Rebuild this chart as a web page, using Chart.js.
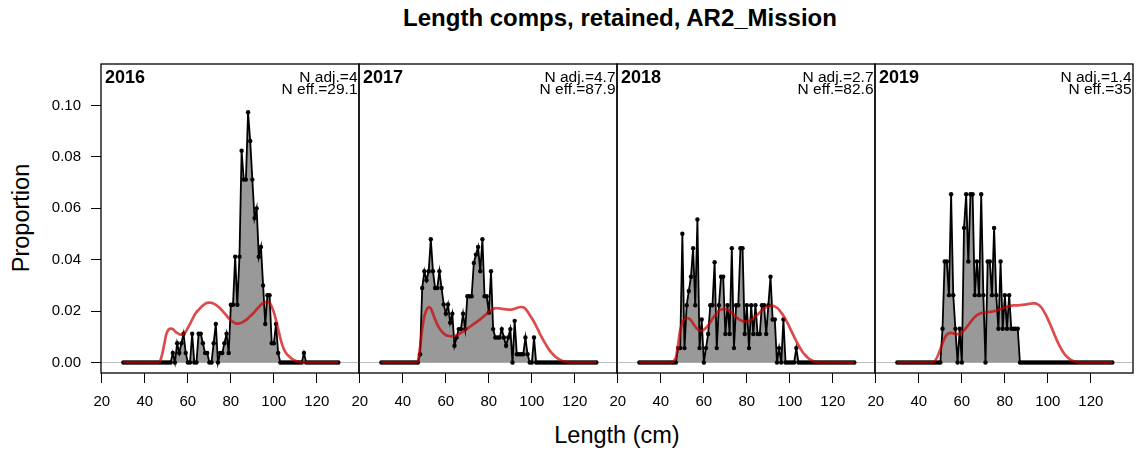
<!DOCTYPE html>
<html><head><meta charset="utf-8">
<script src="https://cdn.jsdelivr.net/npm/chart.js@4.4.1/dist/chart.umd.min.js"></script>
<style>
html,body{margin:0;padding:0;background:#fff;overflow:hidden;width:1140px;height:455px;}
#wrap{position:relative;width:1140px;height:455px;font-family:"Liberation Sans",Arial,sans-serif;color:#000;}
canvas{position:absolute;}
.t{position:absolute;white-space:nowrap;color:#000;line-height:1.15;}
#title{left:620px;top:17.5px;transform:translate(-50%,-50%);font-weight:bold;font-size:24px;}
#ylab{left:22px;top:218px;transform:translate(-50%,-50%) rotate(-90deg);font-size:23.5px;}
#xlab{left:617px;top:436px;transform:translate(-50%,-50%);font-size:23.5px;}
</style></head>
<body>
<div id="wrap">
<div class="t" id="title">Length comps, retained, AR2_Mission</div>
<div class="t" id="ylab">Proportion</div>
<div class="t" id="xlab">Length (cm)</div>
<canvas id="c0" width="389" height="415" style="left:0px;top:40px;"></canvas>
<canvas id="c1" width="318" height="415" style="left:329px;top:40px;"></canvas>
<canvas id="c2" width="318" height="415" style="left:587px;top:40px;"></canvas>
<canvas id="c3" width="318" height="415" style="left:845px;top:40px;"></canvas>
</div>
<script>
const lengths = [30,31,32,33,34,35,36,37,38,39,40,41,42,43,44,45,46,47,48,49,50,51,52,53,54,55,56,57,58,59,60,61,62,63,64,65,66,67,68,69,70,71,72,73,74,75,76,77,78,79,80,81,82,83,84,85,86,87,88,89,90,91,92,93,94,95,96,97,98,99,100,101,102,103,104,105,106,107,108,109,110,111,112,113,114,115,116,117,118,119,120,121,122,123,124,125,126,127,128,129,130];

const years = ["2016","2017","2018","2019"];
const nAdj = ["4","4.7","2.7","1.4"];
const nEff = ["29.1","87.9","82.6","35"];
const xTicks = [20,40,60,80,100,120];
const yTicks = [0,0.02,0.04,0.06,0.08,0.10];

// observed proportions, L = 30..130
const obs2016 = [0,0,0,0,0,0,0,0,0,0, 0,0,0,0,0,0,0,0,0,0, 0,0,0,
 0.0037,0,0.0075,0.0037,0.0075,0.0112,0.0037,0,0,0.0112,0,0,0.0112,0.0112,0.0075,0.0037,0.0037,0,0,0.0075,0.015,0,0.0037,0.0037,0.0075,0.0112,0.0037,
 0.0225,0.0225,0.0412,0.0225,0.0412,0.0824,0.0712,0.0712,0.0974,0.0862,0.0712,0.0562,0.06,0.0412,0.045,0.03,0.015,0.0262,0.0262,0.0075,0.0075,0.015,0.0037,
 0,0,0,0,0,0,0,0,0,0,0, 0.0037,
 0,0,0,0,0,0,0,0,0,0,0,0,0,0,0,0];
const exp2016 = [0,0,0,0,0,0,0,0,0,0,0,0,0,0,0,0,0,
 0.0004,0.003,0.007,0.011,0.0128,0.0132,0.013,0.0122,0.0115,0.011,0.0108,0.0112,0.012,0.0135,0.015,0.0167,0.0183,0.0196,0.0205,0.0214,0.0222,0.0228,0.0232,0.0233,0.0232,0.0229,0.0224,0.0218,0.0211,0.0202,0.0192,0.0182,0.0172,0.0165,0.0158,0.0153,0.0151,0.0152,0.0155,0.016,0.0165,0.0172,0.018,0.0188,0.0197,0.0207,0.0216,0.0225,0.0231,0.0235,0.0236,0.0232,0.0218,0.0195,0.0165,0.013,0.0095,0.0066,0.0046,0.0033,0.0024,0.0017,0.0011,0.0007,0.0004,0.0002,0.0001,
 0,0,0,0,0,0,0,0,0,0,0,0,0,0,0,0,0];

const obs2017 = [0,0,0,0,0,0,0,0,0,0,0,0,0,0,0,0,0,0,
 0.0032,0.029,0.0355,0.032,0.0355,0.048,0.0355,0.029,0.029,0.0355,0.029,0.0226,0.019,0.0226,0.0155,0.019,0.0065,0.0097,0.013,0.013,0.019,0.013,0.0258,0.0258,0.0258,0.0387,0.042,0.045,0.0355,0.048,0.0258,0.0258,0.0194,0.0355,0.013,0.0097,0.0097,0.0097,0.013,0.0097,0.0065,0.0097,0.013,0,0.0162,0.0032,0.0032,0.0032,0.0032,0.0097,0.0032,0,0,0.0097,
 0,0,0,0,0,0,0,0,0,0,0,0,0,0,0,0,0,0,0,0,0,0,0,0,0,0,0,0,0];
const exp2017 = [0,0,0,0,0,0,0,0,0,0,0,0,0,0,0,0,0,
 0.0005,0.006,0.013,0.018,0.0205,0.0215,0.021,0.019,0.0168,0.0148,0.0133,0.0122,0.0113,0.0107,0.0104,0.0102,0.0102,0.0103,0.0106,0.011,0.0115,0.012,0.0126,0.0132,0.0138,0.0144,0.015,0.0156,0.0162,0.0168,0.0175,0.0182,0.0189,0.0196,0.0203,0.0208,0.0211,0.0211,0.021,0.0209,0.0208,0.0207,0.0206,0.0206,0.0207,0.0209,0.0212,0.0215,0.0216,0.0215,0.0209,0.0198,0.0185,0.0172,0.0158,0.0142,0.0125,0.0107,0.0092,0.0077,0.0063,0.005,0.0039,0.003,0.0022,0.0016,0.0011,0.0007,0.0004,0.0002,0.0001,
 0,0,0,0,0,0,0,0,0,0,0,0,0];

const obs2018 = [0,0,0,0,0,0,0,0,0,0,0,0,0,0,0,0,0,0,
 0.0056,0.0056,0.0501,0.0056,0.0223,0.0278,0.0334,0.0445,0.0223,0.0557,0.0056,0.0167,0,0.0056,0.0111,0.0223,0.0223,0.039,0.0056,0.0223,0.0334,0.0334,0.0111,0.0223,0.0111,0.0445,0.0056,0.0223,0.0223,0.0445,0.0445,0.0111,0.0223,0.0056,0.0223,0.0111,0.0223,0.0111,0.0111,0.0223,0.0223,0.0111,0.0223,0.0334,0.0167,0.0167,0,0.0056,0,0.0167,0,0,0,0,0,0.0056,
 0,0,0,0,0,0,0,0,0,0,0,0,0,0,0,0,0,0,0,0,0,0,0,0,0,0,0];
const exp2018 = [0,0,0,0,0,0,0,0,0,0,0,0,0,0,0,0,
 0.0005,0.002,0.007,0.0125,0.0155,0.0168,0.0173,0.0171,0.0164,0.0152,0.014,0.013,0.0125,0.0124,0.0128,0.0135,0.0145,0.0157,0.017,0.0182,0.0193,0.0201,0.0206,0.0208,0.0208,0.0205,0.02,0.0193,0.0185,0.0177,0.017,0.0165,0.0161,0.016,0.016,0.0162,0.0166,0.0172,0.0179,0.0187,0.0195,0.0203,0.021,0.0215,0.0218,0.022,0.022,0.0218,0.0213,0.0205,0.0194,0.0182,0.0168,0.0152,0.0135,0.0117,0.01,0.0083,0.0067,0.0053,0.004,0.003,0.0021,0.0014,0.0009,0.0005,0.0003,0.0001,
 0,0,0,0,0,0,0,0,0,0,0,0,0,0,0,0,0];

const obs2019 = [0,0,0,0,0,0,0,0,0,0,0,0,0,0,0,0,0,0,0,0,0,
 0.0131,0.0393,0.0393,0.0262,0.0655,0.0262,0.0131,0,0.0131,0,0.0524,0.0655,0.0393,0.0655,0.0655,0.0262,0.0393,0.0262,0.0655,0.0262,0,0.0393,0.0393,0.0262,0.0524,0.0262,0.0131,0.0393,0.0131,0.0262,0.0131,0.0262,0.0131,0.0131,0.0131,0.0131,
 0,0,0,0,0,0,0,0,0,0,0,0,0,0,0,0,0,0,0,0,0,0,0,0,0,0,0,0,0,0,0,0,0,0,0,0,0,0,0,0,0,0,0,0];
const exp2019 = [0,0,0,0,0,0,0,0,0,0,0,0,0,0,0,0,
 0.0001,0.0003,0.0012,0.003,0.0052,0.0075,0.0095,0.0108,0.0114,0.0115,0.0113,0.0111,0.011,0.0112,0.0117,0.0125,0.0135,0.0146,0.0157,0.0168,0.0177,0.0184,0.0189,0.0192,0.0194,0.0195,0.0196,0.0197,0.0198,0.02,0.0202,0.0204,0.0207,0.021,0.0214,0.0217,0.022,0.0221,0.0222,0.0222,0.0222,0.0223,0.0224,0.0225,0.0226,0.0228,0.0229,0.023,0.023,0.0228,0.0223,0.0214,0.0201,0.0186,0.0169,0.015,0.013,0.011,0.009,0.0072,0.0056,0.0042,0.003,0.0021,0.0014,0.0009,0.0005,0.0003,0.0001,
 0,0,0,0,0,0,0,0,0,0,0,0,0,0,0,0];

const observed = [obs2016, obs2017, obs2018, obs2019];
const expected = [exp2016, exp2017, exp2018, exp2019];

const FONT = '"Liberation Sans", Arial, Helvetica, sans-serif';
Chart.defaults.font.family = FONT;
Chart.defaults.color = '#000';

const panelDeco = {
  id: 'panelDeco',
  afterDatasetsDraw(chart, args, opts) {
    const ctx = chart.ctx, a = chart.chartArea;
    ctx.save();
    ctx.strokeStyle = '#000';
    ctx.lineWidth = 1.3;
    ctx.strokeRect(a.left, a.top, a.right - a.left, a.bottom - a.top);
    ctx.fillStyle = '#000';
    ctx.textBaseline = 'alphabetic';
    ctx.font = 'bold 18px ' + FONT;
    ctx.textAlign = 'left';
    ctx.fillText(opts.year, a.left + 4, a.top + 18.5);
    ctx.font = '15.5px ' + FONT;
    ctx.textAlign = 'right';
    ctx.fillText('N adj.=' + opts.nAdj, a.right - 1.5, a.top + 17.5);
    ctx.fillText('N eff.=' + opts.nEff, a.right - 1.5, a.top + 30);
    ctx.restore();
  }
};

for (let k = 0; k < 4; k++) {
  const obs = observed[k], exp = expected[k];
  new Chart(document.getElementById('c' + k), {
    type: 'line',
    data: {
      datasets: [
        {
          label: 'expected',
          data: lengths.map((L, i) => ({x: L, y: exp[i]})),
          borderColor: 'rgba(205,0,0,0.7)',
          borderWidth: 2.7,
          pointRadius: 0,
          fill: false,
          tension: 0.3,
          order: 0
        },
        {
          label: 'observed',
          data: lengths.map((L, i) => ({x: L, y: obs[i]})),
          borderColor: '#000',
          borderWidth: 1.8,
          pointRadius: 2.2,
          pointBorderWidth: 0,
          pointBackgroundColor: '#000',
          fill: 'origin',
          backgroundColor: '#999999',
          tension: 0,
          order: 1
        }
      ]
    },
    options: {
      responsive: false,
      animation: false,
      devicePixelRatio: 1,
      events: [],
      layout: {padding: {left: k === 0 ? 0 : 30, right: 30, top: 24, bottom: 0}},
      plugins: {
        legend: {display: false},
        tooltip: {enabled: false},
        panelDeco: {year: years[k], nAdj: nAdj[k], nEff: nEff[k]}
      },
      scales: {
        x: {
          type: 'linear',
          min: 19.6,
          max: 139.6,
          afterBuildTicks: s => { s.ticks = xTicks.map(v => ({value: v})); },
          afterFit: s => { s.height = 82; },
          border: {display: false},
          grid: {drawOnChartArea: false, drawTicks: true, tickLength: 10, tickColor: '#000', tickWidth: 1},
          ticks: {color: '#000', font: {size: 15}, padding: 10, maxRotation: 0, autoSkip: false}
        },
        y: {
          type: 'linear',
          min: -0.0041,
          max: 0.1162,
          afterBuildTicks: s => { s.ticks = yTicks.map(v => ({value: v})); },
          afterFit: s => { s.width = k === 0 ? 101 : 0; },
          border: {display: false},
          grid: {
            color: c => (c.tick && c.tick.value === 0) ? '#bfbfbf' : 'rgba(0,0,0,0)',
            lineWidth: 1,
            drawTicks: k === 0,
            tickLength: 10,
            tickColor: '#000',
            tickWidth: 1
          },
          ticks: {display: k === 0, color: '#000', font: {size: 15}, padding: 10, callback: v => Number(v).toFixed(2)}
        }
      }
    },
    plugins: [panelDeco]
  });
}
</script>
</body></html>
